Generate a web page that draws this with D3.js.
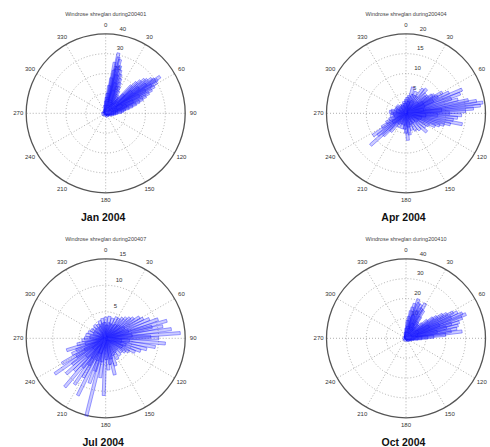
<!DOCTYPE html>
<html>
<head>
<meta charset="utf-8">
<script src="https://cdn.jsdelivr.net/npm/d3@7"></script>
<style>
  body { margin: 0; background: #fff; }
  svg { display: block; font-family: Arial, "Liberation Sans", sans-serif; }
</style>
</head>
<body>
<svg id="viz" width="490" height="447"></svg>
<script>
// [direction (deg), speed]
const janWind = [
  [12,31],[13,29],[15,28],[10,26],[17,25],[14,24],[19,23],[11,22],[21,21],[16,20],[23,19],[9,18],[25,17],[18,16],[27,15],[7,14],[30,13],[20,12],[33,11],[5,10],[36,10],[38,9],[3,8],[41,8],
  [56,33],[57,31],[55,30],[59,30],[53,29],[61,28],[51,27],[58,27],[63,26],[49,26],[54,25],[65,24],[47,24],[60,23],[67,22],[45,22],[52,21],[69,20],[62,19],[43,19],[71,18],[50,17],[73,16],[66,15],[75,14],[44,13],[77,12],[70,11],[79,10],[82,9],[85,8],[88,6],[64,9],[48,8],
  [92,5],[98,4],[105,3],[115,2],[1,6],[355,4],[345,2],[150,2],[200,1.5],[260,2],[300,1.5],
  [8,7],[15,6],[22,7],[28,6],[35,5],[42,6],[50,7],[58,6],[65,5],[72,6],[80,5],[86,4],[18,4],[40,4],[62,4],[30,3],[75,3]
];
const aprWind = [
  [82,19.5],[84,18.8],[80,18],[86,17],[67,15.3],[70,14.5],[92,14],[101,14.4],[88,15],[95,13],[78,16],[75,13.5],[98,12],[104,11.5],[72,12],[64,12],[90,11],[107,10],[60,10.5],[110,9],[62,9],[57,8.5],[55,8],[114,8],[65,7.5],[52,7],[50,6.5],[118,6.5],[85,9],[93,8],
  [15,6.8],[25,6],[35,7.5],[40,8],[45,7],[30,5],[10,4.5],[20,5],[5,4],[0,3.5],[350,3],[340,2.5],
  [132,7],[125,6],[140,5.5],[150,5],[160,4.5],[170,5.5],[176,6.8],[180,5],[185,4],
  [228,12],[236,10],[232,9],[240,7],[225,8],[220,6],[245,5.5],[210,4],[195,4],[250,4.5],
  [260,4],[270,3.6],[275,4.2],[280,3.8],[290,3],[300,2.8],[310,3],[320,2.5],[330,2.2],[265,3.2],
  [12,3],[28,3.5],[48,4],[58,5],[68,5],[78,4.5],[96,5],[108,4],[122,3.5],[138,3],[155,3],[168,3.5],[190,3],[205,2.8],[215,3.2],[235,4],[255,3],[285,2.5],[305,2],[335,2],[355,2.5]
];
const julWind = [
  [86,14.1],[74,12],[95,11.3],[78,11],[82,12.5],[70,10.5],[90,10],[100,9.5],[66,9],[62,8],[105,8],[58,7.5],[110,7],[88,8.5],[76,9],[54,6.5],[50,6],[45,5.5],[40,5],[35,4.5],[115,6.1],[120,5],[125,4.5],[130,4],
  [194,15.1],[182,10.8],[166,7.1],[175,6],[170,5],[188,7.5],[160,5.5],[150,4.5],[140,4.2],
  [235,11.7],[220,12],[206,12],[228,10],[214,10.5],[240,9.5],[224,8.5],[232,8],[210,8.5],[218,7],[200,9],[245,7],[253,7.7],[248,6],[258,5.5],[238,6.5],[212,6],[198,6.5],
  [265,4.5],[270,4],[280,3.8],[290,3.5],[300,3.2],[310,3],[320,3.3],[330,3],[340,3.5],[350,3.8],[0,4],[10,4.2],[20,4],[28,4.5],[355,3],
  [5,2.5],[15,3],[25,2.8],[38,3.2],[48,3.5],[60,4],[72,4.5],[84,5],[96,4.5],[108,4],[118,3.5],[135,3],[145,3.2],[155,3.5],[165,4],[178,4],[190,4.5],[202,4.5],[215,4.5],[226,5],[242,4.5],[255,4],[275,3],[295,2.5],[315,2.5],[335,2.5],[345,2.8],[230,3],[200,3],[100,3]
];
const octWind = [
  [17.5,20.7],[29,20],[20,19],[14,18],[24,18.5],[12,16],[27,17],[32,16.5],[22,15],[10,14],[34,13],[18,12],[8,11],[36,10],[5,9],[39,9],[26,8],[42,7],
  [68,32.5],[66,31],[70,30],[83,28.4],[76,27],[73,28],[63,29],[79,26],[61,27],[65,25],[72,24],[59,24],[81,23],[57,22],[75,21],[85,20],[55,19],[68,18],[53,17],[78,16],[87,14],[50,14],[62,13],[88,11],[48,11],[90,8],[45,9],[92,6],[95,4],
  [100,3],[110,2.5],[130,2],[2,5],[355,3],[270,1.5],[200,1.5],
  [10,6],[20,5],[30,6],[40,5],[50,6],[60,7],[70,6],[80,5],[88,4],[15,3],[45,3],[75,3]
];

const titles = ["Windrose shreglan during200401", "Windrose shreglan during200404", "Windrose shreglan during200407", "Windrose shreglan during200410"];
const captions = ["Jan 2004", "Apr 2004", "Jul 2004", "Oct 2004"];
const rTicks = [[10, 20, 30, 40], [5, 10, 15, 20], [5, 10, 15], [10, 20, 30, 40]];
const angleTicks = [0, 30, 60, 90, 120, 150, 180, 210, 240, 270, 300, 330];

const panels = [
  { data: janWind, cx: 105.7, cy: 113.3 },
  { data: aprWind, cx: 406, cy: 113.3 },
  { data: julWind, cx: 105.7, cy: 338.3 },
  { data: octWind, cx: 406, cy: 338.3 }
];

const width = 490;
const svg = d3.select("#viz");
const R = 79.5;
const angle = d3.scaleLinear().domain([0, 360]).range([0, 2 * Math.PI]);

function drawRose(p, i) {
  const ticks = rTicks[i];
  const rScale = d3.scaleLinear().domain([0, d3.max(ticks)]).range([0, R]);
  const g = svg.append("g").attr("transform", `translate(${p.cx},${p.cy})`);

  // spokes
  g.selectAll(".spoke")
    .data(angleTicks)
    .join("line")
      .attr("x1", 0).attr("y1", 0)
      .attr("x2", d => d3.pointRadial(angle(d), R)[0])
      .attr("y2", d => d3.pointRadial(angle(d), R)[1])
      .attr("stroke", "#9a9a9a")
      .attr("stroke-width", 0.8)
      .attr("stroke-dasharray", "1,2");

  // rings
  g.selectAll(".ring")
    .data(ticks.slice(0, -1))
    .join("circle")
      .attr("r", d => rScale(d))
      .attr("fill", "none")
      .attr("stroke", "#9a9a9a")
      .attr("stroke-width", 0.8)
      .attr("stroke-dasharray", "1,2");

  g.append("circle")
    .attr("r", R)
    .attr("fill", "none")
    .attr("stroke", "#555")
    .attr("stroke-width", 1.3);

  // angle labels (the ones past the right edge are clipped off in the original)
  g.selectAll(".alabel")
    .data(angleTicks.filter(d => p.cx + d3.pointRadial(angle(d), R * 1.1)[0] + 5 < width))
    .join("text")
      .attr("x", d => d3.pointRadial(angle(d), R * 1.1)[0])
      .attr("y", d => d3.pointRadial(angle(d), R * 1.1)[1])
      .attr("text-anchor", "middle")
      .attr("dominant-baseline", "middle")
      .attr("font-size", 6)
      .attr("fill", "#333")
      .text(d => d);

  // radial labels
  g.selectAll(".rlabel")
    .data(ticks)
    .join("text")
      .attr("x", d => d3.pointRadial(angle(8), rScale(d))[0] + 6)
      .attr("y", d => d3.pointRadial(angle(8), rScale(d))[1] - 5.5)
      .attr("text-anchor", "middle")
      .attr("dominant-baseline", "middle")
      .attr("font-size", 6)
      .attr("fill", "#333")
      .text(d => d);

  // wind bars
  const hw = 1.5;
  const bar = d => {
    const a = angle(d[0]);
    const [ex, ey] = d3.pointRadial(a, rScale(d[1]));
    const px = Math.cos(a) * hw, py = Math.sin(a) * hw;
    return d3.line()([[px, py], [ex + px, ey + py], [ex - px, ey - py], [-px, -py]]) + "Z";
  };
  g.selectAll(".bar")
    .data(p.data)
    .join("path")
      .attr("d", bar)
      .attr("fill", "rgba(70,70,255,0.28)")
      .attr("stroke", "rgba(20,20,255,0.65)")
      .attr("stroke-width", 0.6);

  svg.append("text")
    .attr("x", p.cx)
    .attr("y", p.cy - 98.3)
    .attr("text-anchor", "middle")
    .attr("dominant-baseline", "middle")
    .attr("font-size", 5.5)
    .attr("fill", "#444")
    .text(titles[i]);

  svg.append("text")
    .attr("x", p.cx - 2.5)
    .attr("y", p.cy + 107.8)
    .attr("text-anchor", "middle")
    .attr("font-size", 10.5)
    .attr("font-weight", "bold")
    .attr("fill", "#111")
    .text(captions[i]);
}

panels.forEach(drawRose);
</script>
</body>
</html>
